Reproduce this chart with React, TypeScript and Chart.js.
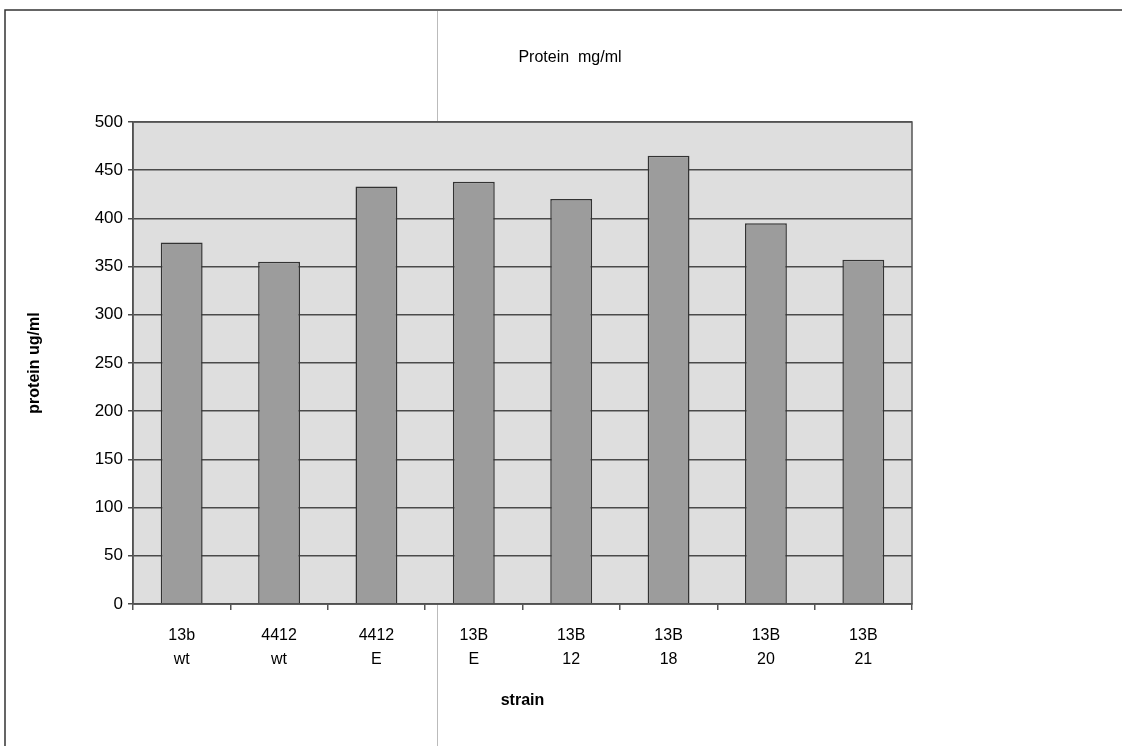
import React, { useEffect, useRef } from "react";
import { Chart, registerables } from "chart.js";

Chart.register(...registerables);

const categories: string[][] = [
  ["13b", "wt"],
  ["4412", "wt"],
  ["4412", "E"],
  ["13B", "E"],
  ["13B", "12"],
  ["13B", "18"],
  ["13B", "20"],
  ["13B", "21"],
];
const proteinValues: number[] = [375, 355, 433, 438, 420, 465, 395, 357];
const yTicks: number[] = [0, 50, 100, 150, 200, 250, 300, 350, 400, 450, 500];
const chartTitle = "Protein  mg/ml";
const yTitle = "protein ug/ml";
const xTitle = "strain";

const FONT = "'Liberation Sans', Arial, sans-serif";

const decorPlugin = {
  id: "decor",
  beforeDraw(chart: any) {
    const { ctx, chartArea } = chart;
    ctx.save();
    ctx.fillStyle = "#ffffff";
    ctx.fillRect(0, 0, chart.width, chart.height);
    // scan frame
    ctx.strokeStyle = "#333";
    ctx.lineWidth = 1.5;
    ctx.beginPath();
    ctx.moveTo(5, 746);
    ctx.lineTo(5, 10);
    ctx.lineTo(1122, 10);
    ctx.stroke();
    ctx.strokeStyle = "#bbb";
    ctx.lineWidth = 1;
    ctx.beginPath();
    ctx.moveTo(437.5, 11);
    ctx.lineTo(437.5, 746);
    ctx.stroke();
    // plot area background
    ctx.fillStyle = "#dedede";
    ctx.fillRect(chartArea.left, chartArea.top, chartArea.right - chartArea.left, chartArea.bottom - chartArea.top);
    // title
    ctx.fillStyle = "#000";
    ctx.font = `16px ${FONT}`;
    ctx.textAlign = "center";
    ctx.textBaseline = "middle";
    ctx.fillText(chartTitle, 570, 58);
    ctx.restore();
  },
  afterDraw(chart: any) {
    const { ctx, chartArea } = chart;
    ctx.save();
    ctx.strokeStyle = "#555";
    ctx.lineWidth = 1.5;
    ctx.strokeRect(chartArea.left, chartArea.top, chartArea.right - chartArea.left, chartArea.bottom - chartArea.top);
    ctx.restore();
  },
};

export default function App() {
  const ref = useRef<HTMLCanvasElement | null>(null);
  useEffect(() => {
    if (!ref.current) return;
    const chart = new Chart(ref.current, {
      type: "bar",
      data: {
        labels: categories,
        datasets: [
          {
            label: "protein",
            data: proteinValues,
            backgroundColor: "#9c9c9c",
            borderColor: "#333333",
            borderWidth: 1.5,
            barPercentage: 0.43,
            categoryPercentage: 1,
          },
        ],
      },
      options: {
        responsive: false,
        animation: false,
        layout: { padding: { left: 0, right: 210, top: 122, bottom: 0 } },
        plugins: {
          legend: { display: false },
          title: { display: false },
          tooltip: { enabled: false },
        },
        scales: {
          x: {
            afterFit: (s: any) => {
              s.height = 142;
            },
            grid: {
              drawOnChartArea: false,
              drawTicks: true,
              tickLength: 6,
              color: "#555",
              lineWidth: 1.5,
            },
            border: { color: "#444", width: 1.5 },
            ticks: {
              color: "#000",
              font: { family: FONT, size: 16, lineHeight: 1.5 },
              padding: 14,
              maxRotation: 0,
              autoSkip: false,
            },
            title: {
              display: true,
              text: xTitle,
              color: "#000",
              font: { family: FONT, size: 16, weight: "bold" },
              padding: { top: 0, bottom: 36 },
            },
          },
          y: {
            min: 0,
            max: 500,
            afterFit: (s: any) => {
              s.width = 133;
            },
            afterBuildTicks: (s: any) => {
              s.ticks = yTicks.map((v) => ({ value: v }));
            },
            grid: {
              color: "#4a4a4a",
              lineWidth: 1.5,
              drawTicks: true,
              tickLength: 5,
            },
            border: { color: "#444", width: 1.5 },
            ticks: {
              color: "#000",
              font: { family: FONT, size: 17 },
              padding: 5,
            },
            title: {
              display: true,
              text: yTitle,
              color: "#000",
              font: { family: FONT, size: 16, weight: "bold" },
              padding: { top: 25, bottom: 0 },
            },
          },
        },
      },
      plugins: [decorPlugin],
    });
    return () => chart.destroy();
  }, []);
  return (
    <div style={{ position: "fixed", left: 0, top: 0, width: 1122, height: 746 }}>
      <canvas ref={ref} width={1122} height={746} style={{ width: 1122, height: 746 }} />
    </div>
  );
}
